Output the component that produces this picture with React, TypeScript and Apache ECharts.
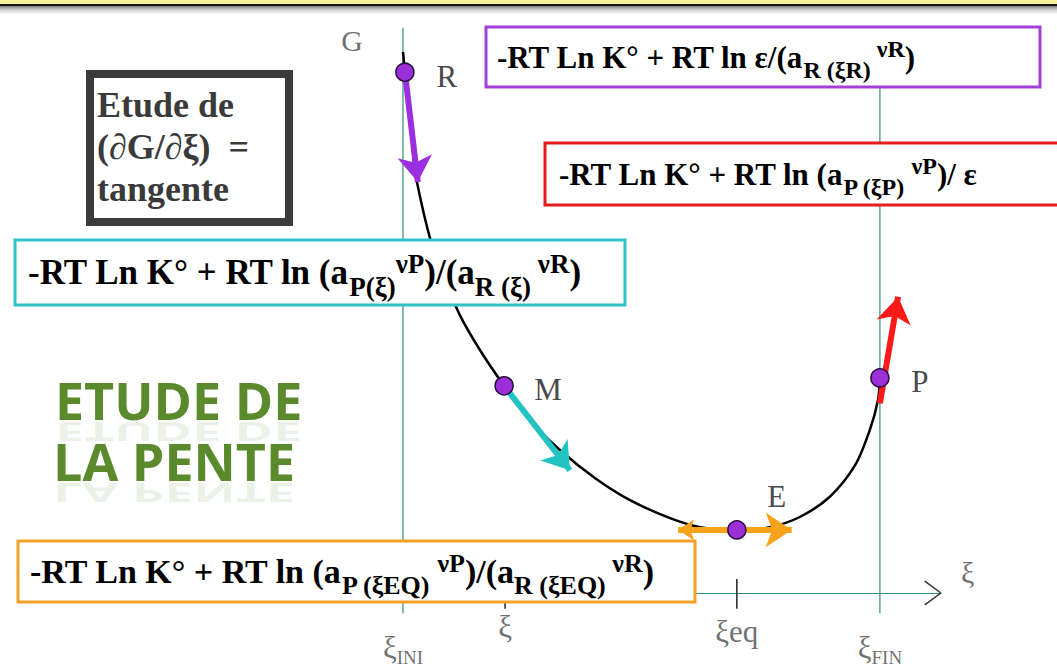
import React, { useEffect, useRef } from "react";
import * as echarts from "echarts";

// Axis ranges (ξ normalised so that ξINI = 0 and ξFIN = 1)
const XI_MAX = 1.126;
const G_MAX = 10;

// Free enthalpy curve G(ξ)
const curveXi = [0, 0.004, 0.015, 0.025, 0.042, 0.061, 0.088, 0.119, 0.161, 0.212, 0.266, 0.329, 0.403, 0.476, 0.56, 0.623, 0.7, 0.769, 0.832, 0.895, 0.948, 0.979, 0.996, 1.0];
const curveG = [9.61, 9.25, 8.4, 7.51, 6.8, 6.18, 5.56, 4.94, 4.32, 3.68, 3.07, 2.54, 2.04, 1.65, 1.33, 1.17, 1.12, 1.17, 1.35, 1.71, 2.27, 2.9, 3.43, 3.82];

// Remarkable points on the curve
const pointNames = ["R", "M", "E", "P"];
const pointXi = [0.004, 0.212, 0.7, 1.0];
const pointG = [9.25, 3.68, 1.12, 3.82];

// Tangent arrows (start / end in ξ, G)
const tangentStartXi = [0.004, 0.212, 0.577, 1.0];
const tangentStartG = [9.25, 3.68, 1.12, 3.37];
const tangentEndXi = [0.031, 0.35, 0.815, 1.038];
const tangentEndG = [7.3, 2.18, 1.12, 5.26];
const tangentColors = ["#9b2fe0", "#22c3c3", "#f7a21b", "#ff1a1a"];
const tangentDouble = [false, false, true, false];

// Bounds ξINI and ξFIN
const boundXi = [0, 1.0];
const boundG = [-0.36, 10.04];

// Ticks on the ξ axis
const tickXi = [0.214, 0.7];
const tickG = [0.25, -0.28];

// Tick labels
const tickMain = ["ξ", "ξ", "ξeq", "ξ"];
const tickSub = ["INI", "", "", "FIN"];
const tickLabelXi = [0, 0.214, 0.7, 1.0];
const tickLabelG = [-0.96, -0.6, -0.69, -0.96];

// Axis names
const axisNames = ["G", "ξ"];
const axisNameXi = [-0.107, 1.184];
const axisNameG = [9.82, 0.37];

// Formulas of the slope (∂G/∂ξ)
const formulaR = "{m|-RT Ln K° + RT ln ε/(a}{s|R (ξR)}{p| νR}{m|)}";
const formulaP = "{m|-RT Ln K° + RT ln (a}{s|P (ξP)}{p| νP}{m|)/ ε}";
const formulaM = "{m|-RT Ln K° + RT ln (a}{s|P(ξ)}{p|νP}{m|)/(a}{s|R (ξ)}{p| νR}{m|)}";
const formulaE = "{m|-RT Ln K° + RT ln (a}{s|P (ξEQ)}{p| νP}{m|)/(a}{s|R (ξEQ)}{p| νR}{m|)}";

const SERIF = '"Liberation Serif", "Times New Roman", serif';
const AXIS_GREEN = "#2f8f6f";
const LABEL_GREY = "#4a4a4a";

function formulaRich(main: number, small: number, lineH: number, supPad: number) {
  const base = { fontFamily: SERIF, fontWeight: "bold", color: "#111" };
  return {
    m: { ...base, fontSize: main, lineHeight: lineH, verticalAlign: "middle" },
    s: { ...base, fontSize: small, lineHeight: small, verticalAlign: "bottom" },
    p: { ...base, fontSize: small, lineHeight: small, verticalAlign: "top", padding: [supPad, 0, 0, 0] },
  };
}

function formulaBox(
  x: number, y: number, w: number, h: number, color: string, text: string, textX: number,
  main: number, small: number, lineH: number, supPad: number
) {
  return {
    type: "group",
    z: 100,
    children: [
      { type: "rect", z: 100, shape: { x, y, width: w, height: h }, style: { fill: "#fff", stroke: color, lineWidth: 3 } },
      {
        type: "text",
        z: 101,
        x: textX,
        y: y + h / 2,
        style: { text, rich: formulaRich(main, small, lineH, supPad), verticalAlign: "middle", align: "left" },
      },
    ],
  };
}

// "ETUDE DE / LA PENTE" title line with a faint mirrored reflection under it
function titleLine(text: string, x: number, top: number) {
  const font = { fontFamily: '"Open Sans", sans-serif', fontWeight: "bold", fontSize: 52 };
  const s = 0.5;
  const baseline = top + 47;
  return [
    {
      type: "text",
      z: 50,
      x,
      y: top,
      style: { text, ...font, fill: "#5a8a2b", verticalAlign: "top", align: "left" },
    },
    {
      type: "text",
      z: 49,
      x,
      y: baseline + 2 + 47 * s,
      scaleY: -s,
      style: { text, ...font, fill: "rgba(110,150,70,0.13)", verticalAlign: "top", align: "left" },
    },
  ];
}

export default function App() {
  const ref = useRef<HTMLDivElement>(null);

  useEffect(() => {
    document.body.style.margin = "0";
    const chart = echarts.init(ref.current!, null, { renderer: "svg" });

    const curve = curveXi.map((x, i) => [x, curveG[i]]);
    const points = pointNames.map((n, i) => ({ name: n, value: [pointXi[i], pointG[i]] }));
    const pointLabelOffset: Record<string, number[]> = { R: [42, 4], M: [44, 4], E: [40, -33], P: [40, 4] };

    const series: any[] = [];

    // ξINI and ξFIN bounds
    boundXi.forEach((x) => {
      series.push({
        type: "line",
        data: [[x, boundG[0]], [x, boundG[1]]],
        symbol: "none",
        clip: false,
        silent: true,
        lineStyle: { color: AXIS_GREEN, width: 1.2 },
        z: 1,
      });
    });

    // axis ticks at ξ and ξeq
    tickXi.forEach((x) => {
      series.push({
        type: "line",
        data: [[x, tickG[0]], [x, tickG[1]]],
        symbol: "none",
        clip: false,
        lineStyle: { color: "#222", width: 1.5 },
        z: 1,
      });
    });

    // open arrowhead at the end of the ξ axis
    series.push({
      type: "line",
      data: [[1.094, 0.21], [1.128, 0], [1.094, -0.21]],
      symbol: "none",
      clip: false,
      lineStyle: { color: "#333", width: 1.5 },
      z: 1,
    });

    // G(ξ) curve
    series.push({
      type: "line",
      data: curve,
      smooth: 0.3,
      symbol: "none",
      clip: false,
      lineStyle: { color: "#000", width: 2.5 },
      z: 3,
    });

    // tangents
    tangentColors.forEach((c, i) => {
      series.push({
        type: "lines",
        coordinateSystem: "cartesian2d",
        data: [{ coords: [[tangentStartXi[i], tangentStartG[i]], [tangentEndXi[i], tangentEndG[i]]] }],
        symbol: tangentDouble[i] ? ["arrow", "arrow"] : ["none", "arrow"],
        symbolSize: [16, 26],
        lineStyle: { color: c, width: 6, opacity: 1, curveness: 0 },
        clip: false,
        z: 4,
      });
    });

    // points R, M, E, P
    series.push({
      type: "scatter",
      data: points.map((p) => ({
        ...p,
        label: {
          show: true,
          position: "inside",
          offset: pointLabelOffset[p.name],
          formatter: "{b}",
          fontFamily: SERIF,
          fontSize: 31,
          color: LABEL_GREY,
        },
      })),
      symbolSize: 18,
      clip: false,
      itemStyle: { color: "#9b30d8", borderColor: "#2a0a40", borderWidth: 1.5, opacity: 1 },
      z: 5,
    });

    // tick labels below the ξ axis
    series.push({
      type: "scatter",
      data: tickMain.map((m, i) => ({
        name: tickSub[i] ? `{m|${m}}{s|${tickSub[i]}}` : `{m|${m}}`,
        value: [tickLabelXi[i], tickLabelG[i]],
      })),
      symbolSize: 0,
      clip: false,
      label: {
        show: true,
        position: "inside",
        formatter: "{b}",
        rich: {
          m: { fontFamily: SERIF, fontSize: 31, color: LABEL_GREY, lineHeight: 40, verticalAlign: "middle" },
          s: { fontFamily: SERIF, fontSize: 19, color: LABEL_GREY, lineHeight: 19, verticalAlign: "bottom" },
        },
      },
      z: 5,
    });

    // axis names
    series.push({
      type: "scatter",
      data: axisNames.map((n, i) => ({ name: n, value: [axisNameXi[i], axisNameG[i]] })),
      symbolSize: 0,
      clip: false,
      label: { show: true, position: "inside", formatter: "{b}", fontFamily: SERIF, fontSize: 30, color: LABEL_GREY },
      z: 5,
    });

    chart.setOption({
      animation: false,
      backgroundColor: "#fff",
      grid: { left: 403, right: 117, top: 30, bottom: 77 },
      xAxis: {
        type: "value",
        min: 0,
        max: XI_MAX,
        axisLine: { show: true, onZero: true, lineStyle: { color: AXIS_GREEN, width: 1.2 } },
        axisTick: { show: false },
        axisLabel: { show: false },
        splitLine: { show: false },
      },
      yAxis: {
        type: "value",
        min: 0,
        max: G_MAX,
        axisLine: { show: false },
        axisTick: { show: false },
        axisLabel: { show: false },
        splitLine: { show: false },
      },
      series,
      graphic: [
        // banner at the top of the slide
        { type: "rect", z: 90, shape: { x: 0, y: 0, width: 1057, height: 5 }, style: { fill: "#f6f29c" } },
        { type: "rect", z: 90, shape: { x: 0, y: 4, width: 1057, height: 2.5 }, style: { fill: "#111" } },
        {
          type: "rect",
          z: 90,
          shape: { x: 0, y: 6.5, width: 1057, height: 10 },
          style: {
            fill: {
              type: "linear", x: 0, y: 0, x2: 0, y2: 1,
              colorStops: [{ offset: 0, color: "#8a8a8a" }, { offset: 1, color: "rgba(255,255,255,0)" }],
            },
          },
        },
        // "Etude de (∂G/∂ξ) = tangente"
        {
          type: "rect",
          z: 100,
          shape: { x: 90, y: 74, width: 199, height: 148 },
          style: { fill: "#fff", stroke: "#3b3b3b", lineWidth: 8 },
        },
        {
          type: "text",
          z: 101,
          x: 97,
          y: 84,
          style: {
            text: "Etude de\n(∂G/∂ξ)  =\ntangente",
            fontFamily: SERIF,
            fontWeight: "bold",
            fontSize: 36,
            lineHeight: 42,
            fill: "#3a3a3a",
            verticalAlign: "top",
            align: "left",
          },
        },
        ...titleLine("ETUDE DE", 55, 373),
        ...titleLine("LA PENTE", 53, 434),
        formulaBox(486, 27, 554, 60, "#a23fd6", formulaR, 497, 31, 24, 50, 5),
        formulaBox(545, 143, 520, 62, "#e21b1b", formulaP, 559, 31, 24, 50, 5),
        formulaBox(15, 240, 610, 65, "#2fc4c4", formulaM, 28, 35, 27, 56, 6),
        formulaBox(18, 541, 677, 61, "#f2a22a", formulaE, 30, 34, 26, 54, 6),
      ],
    });

    return () => chart.dispose();
  }, []);

  return <div ref={ref} style={{ width: 1057, height: 670 }} />;
}
